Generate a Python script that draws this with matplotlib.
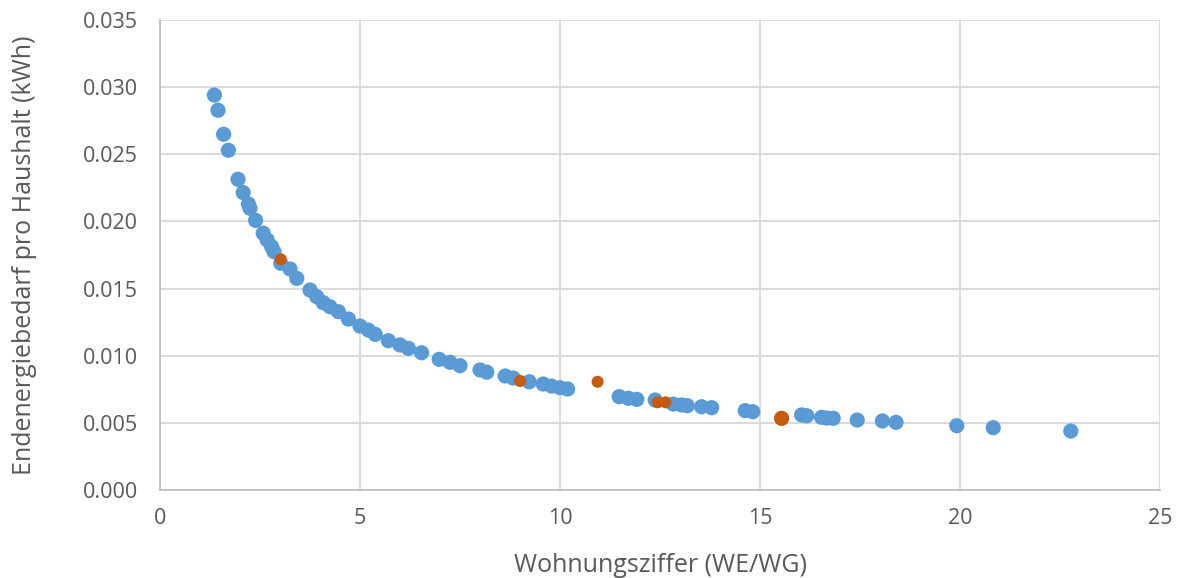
import matplotlib.pyplot as plt

# Wohnungsziffer vs. Endenergiebedarf pro Haushalt
x_blue = [1.36, 1.45, 1.59, 1.71, 1.95, 2.08, 2.21, 2.25, 2.39, 2.58, 2.68, 2.79, 2.85,
          3.02, 3.25, 3.42, 3.75, 3.92, 4.08, 4.25, 4.46, 4.71, 5.0, 5.21, 5.38, 5.71,
          6.0, 6.21, 6.54, 6.98, 7.25, 7.5, 8.0, 8.17, 8.63, 8.83, 9.23, 9.58, 9.79,
          10.0, 10.19, 11.48, 11.71, 11.92, 12.38, 12.83, 13.04, 13.18, 13.54, 13.79,
          14.63, 14.82, 16.04, 16.17, 16.54, 16.67, 16.83, 17.43, 18.06, 18.4,
          19.92, 20.83, 22.77]
y_blue = [0.02941, 0.02828, 0.02649, 0.02530, 0.02314, 0.02215, 0.02130, 0.02098, 0.02008,
          0.01912, 0.01862, 0.01812, 0.01775, 0.01688, 0.01646, 0.01576, 0.01489, 0.01439,
          0.01395, 0.01365, 0.01328, 0.01273, 0.01221, 0.01191, 0.01159, 0.01112, 0.01080,
          0.01055, 0.01022, 0.00973, 0.00951, 0.00926, 0.00894, 0.00877, 0.00849, 0.00834,
          0.00806, 0.00789, 0.00774, 0.00762, 0.00752, 0.00695, 0.00683, 0.00675, 0.00670,
          0.00640, 0.00633, 0.00628, 0.00620, 0.00613, 0.00591, 0.00583, 0.00559,
          0.00553, 0.00541, 0.00536, 0.00534, 0.00521, 0.00514, 0.00504, 0.00479, 0.00464,
          0.00439]

x_orange = [3.02, 9.0, 10.94, 12.44, 12.64, 15.54]
y_orange = [0.01718, 0.00812, 0.00806, 0.00653, 0.00653, 0.00534]
orange_sizes = [75, 75, 75, 75, 75, 120]

x_ticks = [0, 5, 10, 15, 20, 25]
y_ticks = [0.0, 0.005, 0.010, 0.015, 0.020, 0.025, 0.030, 0.035]

plt.rcParams['font.family'] = ['Open Sans', 'DejaVu Sans']
text_col = '#595959'
grid_col = '#D9D9D9'

fig = plt.figure(figsize=(11.82, 5.78), dpi=100)
ax = fig.add_axes([160 / 1182, 1 - 490 / 578, 1000 / 1182, 470 / 578])

ax.scatter(x_blue, y_blue, s=120, color='#5B9BD5', edgecolors='none', zorder=3)
ax.scatter(x_orange, y_orange, s=orange_sizes, color='#C55A11', edgecolors='none', zorder=4)

ax.set_xlim(0, 25)
ax.set_ylim(0, 0.035)
ax.set_xticks(x_ticks)
ax.set_yticks(y_ticks)
ax.set_yticklabels([f'{v:.3f}' for v in y_ticks])
ax.tick_params(length=0, labelsize=15.5, colors=text_col)
ax.tick_params(axis='y', pad=16)
ax.tick_params(axis='x', pad=13)

ax.grid(True, color=grid_col, linewidth=1.3, zorder=0)
ax.set_axisbelow(True)
for side in ['top', 'right']:
    ax.spines[side].set_visible(False)
for side in ['left', 'bottom']:
    ax.spines[side].set_color('#BFBFBF')
    ax.spines[side].set_linewidth(1.3)

ax.set_xlabel('Wohnungsziffer (WE/WG)', fontsize=18, color=text_col, labelpad=17)
ax.set_ylabel('Endenergiebedarf pro Haushalt (kWh)', fontsize=18, color=text_col, labelpad=33)

fig.savefig('out.png', dpi=100)
